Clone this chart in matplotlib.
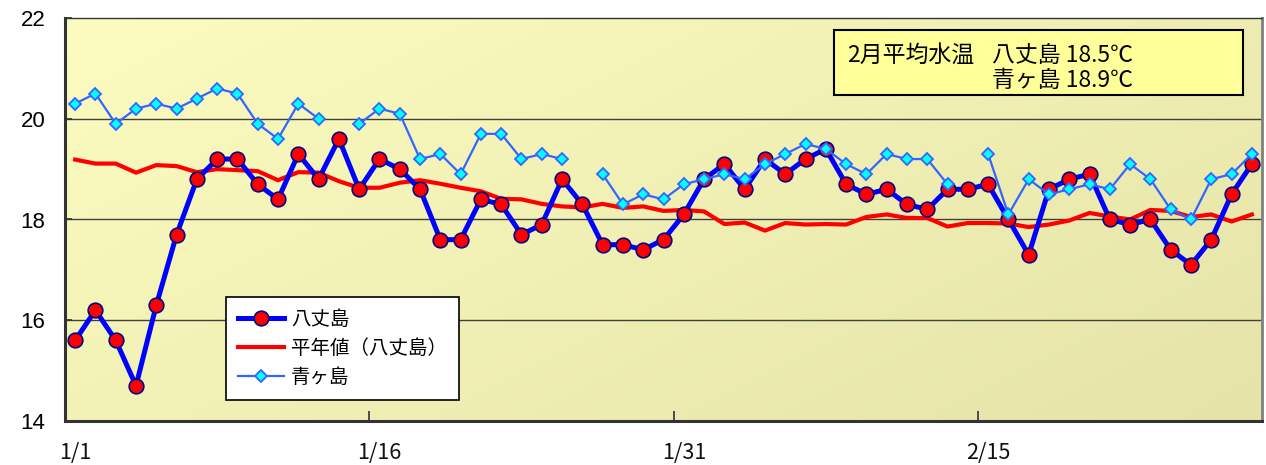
import numpy as np
import matplotlib
matplotlib.use("Agg")
import matplotlib.pyplot as plt
from matplotlib.patches import Rectangle

plt.rcParams['font.family'] = ['Noto Sans CJK JP', 'DejaVu Sans']

# ---- data ----
days = ["1/%d" % d for d in range(1, 32)] + ["2/%d" % d for d in range(1, 29)]
tick_labels = ["1/1", "1/16", "1/31", "2/15"]

hachijo = [15.6, 16.2, 15.6, 14.7, 16.3, 17.7, 18.8, 19.2, 19.2, 18.7,
           18.4, 19.3, 18.8, 19.6, 18.6, 19.2, 19.0, 18.6, 17.6, 17.6,
           18.4, 18.3, 17.7, 17.9, 18.8, 18.3, 17.5, 17.5, 17.4, 17.6,
           18.1, 18.8, 19.1, 18.6, 19.2, 18.9, 19.2, 19.4, 18.7, 18.5,
           18.6, 18.3, 18.2, 18.6, 18.6, 18.7, 18.0, 17.3, 18.6, 18.8,
           18.9, 18.0, 17.9, 18.0, 17.4, 17.1, 17.6, 18.5, 19.1]

normal = [19.19, 19.11, 19.11, 18.93, 19.08, 19.06, 18.94, 19.00, 18.98, 18.96,
          18.78, 18.94, 18.93, 18.76, 18.63, 18.63, 18.73, 18.78, 18.71, 18.63,
          18.56, 18.41, 18.40, 18.31, 18.26, 18.24, 18.31, 18.23, 18.26, 18.17,
          18.19, 18.16, 17.91, 17.94, 17.78, 17.93, 17.90, 17.91, 17.90, 18.05,
          18.10, 18.03, 18.03, 17.86, 17.93, 17.93, 17.92, 17.85, 17.90, 17.98,
          18.13, 18.06, 18.00, 18.19, 18.17, 18.05, 18.10, 17.96, 18.10]

nan = np.nan
aogashima = [20.3, 20.5, 19.9, 20.2, 20.3, 20.2, 20.4, 20.6, 20.5, 19.9,
             19.6, 20.3, 20.0, nan, 19.9, 20.2, 20.1, 19.2, 19.3, 18.9,
             19.7, 19.7, 19.2, 19.3, 19.2, nan, 18.9, 18.3, 18.5, 18.4,
             18.7, 18.8, 18.9, 18.8, 19.1, 19.3, 19.5, 19.4, 19.1, 18.9,
             19.3, 19.2, 19.2, 18.7, nan, 19.3, 18.1, 18.8, 18.5, 18.6,
             18.7, 18.6, 19.1, 18.8, 18.2, 18.0, 18.8, 18.9, 19.3]

series_names = ["八丈島", "平年値（八丈島）", "青ヶ島"]
box_line1_a = "2月平均水温"
box_line1_b = "八丈島 18.5℃"
box_line2 = "青ヶ島 18.9℃"

W, H = 1266, 465
fig = plt.figure(figsize=(W / 100, H / 100), dpi=100)
fig.patch.set_facecolor("white")
L, R, T, B = 65, 1262, 18, 421
ax = fig.add_axes([L / W, (H - B) / H, (R - L) / W, (B - T) / H])

x = np.arange(len(days))

# gradient background
gy, gx = np.mgrid[0:1:200j, 0:1:400j]
t = (gx * 0.6 + gy * 0.4)
c0 = np.array([252, 252, 192]) / 255.0
c1 = np.array([229, 227, 168]) / 255.0
img = c0[None, None, :] * (1 - t[..., None]) + c1[None, None, :] * t[..., None]
ax.imshow(img, extent=(0, 1, 0, 1), transform=ax.transAxes, aspect='auto',
          zorder=0, origin='upper')

ax.set_xlim(-0.5, len(days) - 0.5)
ax.set_ylim(14, 22)

for yv in [16, 18, 20]:
    ax.axhline(yv, color="#404040", lw=1.0, zorder=1)

ax.plot(x, normal, color="#FF0000", lw=3.0, zorder=2, label=series_names[1])
ax.plot(x, hachijo, color="#0000FF", lw=3.6, marker="o", markersize=10.5,
        markerfacecolor="#FF0000", markeredgecolor="#000080", markeredgewidth=1.2,
        zorder=3, label=series_names[0])
ax.plot(x, aogashima, color="#3366FF", lw=1.6, marker="D", markersize=5.8,
        markerfacecolor="#00FFFF", markeredgecolor="#3366FF", markeredgewidth=1.3,
        zorder=4, label=series_names[2])

# ticks
tick_idx = [days.index(s) for s in tick_labels]
ax.set_xticks([i - 0.5 for i in tick_idx])
ax.set_xticklabels([])
ax.set_xticks(tick_idx, minor=True)
ax.set_xticklabels(tick_labels, minor=True, fontsize=15.5, color="#111111")
ax.tick_params(axis="x", which="major", direction="in", length=7, width=1.2, color="#333333")
ax.tick_params(axis="x", which="minor", length=0, pad=15)
ax.set_yticks([14, 16, 18, 20, 22])
ax.set_yticklabels(["14", "16", "18", "20", "22"], family=["Liberation Sans", "DejaVu Sans"],
                   fontsize=16)
ax.tick_params(axis="y", direction="in", length=5, width=1.2, pad=14, color="#333333")

for s in ["left", "bottom"]:
    ax.spines[s].set_color("#333333")
    ax.spines[s].set_linewidth(2.2)
ax.spines["top"].set_color("#333333")
ax.spines["top"].set_linewidth(1.0)
ax.spines["right"].set_color("#808080")
ax.spines["right"].set_linewidth(2.0)

# legend
handles, labels = ax.get_legend_handles_labels()
order = [1, 0, 2]
leg = ax.legend([handles[i] for i in order], [labels[i] for i in order],
                loc="upper left", bbox_to_anchor=((226 - L) / (R - L), (B - 297) / (B - T)),
                borderaxespad=0, fontsize=14, frameon=True, fancybox=False,
                handlelength=2.4, handletextpad=0.35, labelspacing=0.42,
                borderpad=0.6, edgecolor="black", facecolor="white", framealpha=1)
leg.get_frame().set_linewidth(1.2)
leg.set_zorder(10)

# annotation box
fig.patches.append(Rectangle((834 / W, (H - 95) / H), 409 / W, 65 / H,
                             transform=fig.transFigure, facecolor="#FFFF99",
                             edgecolor="black", lw=1.5, zorder=5))
fs = 16.5
fig.text(847 / W, (H - 55) / H, box_line1_a, fontsize=fs, va="center", ha="left", zorder=6)
fig.text(992 / W, (H - 55) / H, box_line1_b, fontsize=fs, va="center", ha="left", zorder=6)
fig.text(992 / W, (H - 80) / H, box_line2, fontsize=fs, va="center", ha="left", zorder=6)

fig.savefig("out.png", dpi=100)
